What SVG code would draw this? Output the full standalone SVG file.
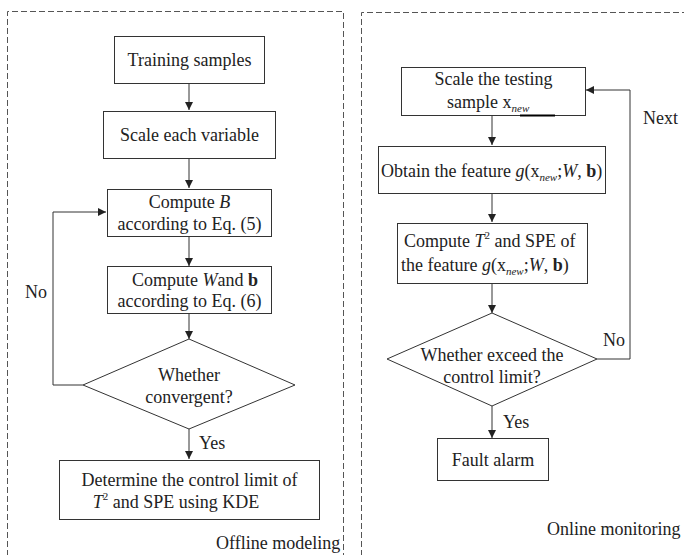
<svg xmlns="http://www.w3.org/2000/svg" width="684" height="555" viewBox="0 0 684 555">
<style>
.box{fill:#fff;stroke:#333;stroke-width:1}
.t{font-family:"Liberation Serif","Times New Roman",serif;font-size:18px;fill:#222}
.c{text-anchor:middle}
.i{font-style:italic}
.b{font-weight:bold}
.s{font-size:11px}
.ln{fill:none;stroke:#333;stroke-width:1}
.dash{fill:none;stroke:#555;stroke-width:1;stroke-dasharray:6 3}
</style>
<defs>
<marker id="ah" viewBox="0 0 10 10" refX="10" refY="5" markerWidth="8" markerHeight="8" markerUnits="userSpaceOnUse" orient="auto">
<path d="M0,0 L10,5 L0,10 Z" fill="#222"/>
</marker>
</defs>
<rect width="684" height="555" fill="#fff"/>
<g id="frames">
<path class="dash" d="M7.5,556 V11.5 H343.5 V556"/>
<path class="dash" d="M361.5,556 V12.5 H685"/>
</g>
<g id="connectors">
<line class="ln" x1="189" y1="83" x2="189" y2="110" marker-end="url(#ah)"/>
<line class="ln" x1="189" y1="158" x2="189" y2="188" marker-end="url(#ah)"/>
<line class="ln" x1="189" y1="236" x2="189" y2="266" marker-end="url(#ah)"/>
<line class="ln" x1="189" y1="313" x2="189" y2="339" marker-end="url(#ah)"/>
<line class="ln" x1="189" y1="429" x2="189" y2="459" marker-end="url(#ah)"/>
<polyline class="ln" points="83,385 53,385 53,212 106,212" marker-end="url(#ah)"/>
<line class="ln" x1="492" y1="115" x2="492" y2="145" marker-end="url(#ah)"/>
<line class="ln" x1="492" y1="193" x2="492" y2="222" marker-end="url(#ah)"/>
<line class="ln" x1="492" y1="283" x2="492" y2="313" marker-end="url(#ah)"/>
<line class="ln" x1="492" y1="406" x2="492" y2="438" marker-end="url(#ah)"/>
<polyline class="ln" points="597,359 630,359 630,90 586,90" marker-end="url(#ah)"/>
<text class="t" x="25" y="298">No</text>
<text class="t" x="199" y="449">Yes</text>
<text class="t" x="603" y="346">No</text>
<text class="t" x="643" y="124">Next</text>
<text class="t" x="503" y="428">Yes</text>
</g>
<g id="training">
<rect class="box" x="114.5" y="36.5" width="150" height="47"/>
<text class="t c" x="189.5" y="66">Training samples</text>
</g>
<g id="scale">
<rect class="box" x="103.5" y="111.5" width="172" height="47"/>
<text class="t c" x="189.5" y="141">Scale each variable</text>
</g>
<g id="computeB">
<rect class="box" x="107.5" y="189.5" width="164" height="47"/>
<text class="t c" x="189.5" y="208">Compute <tspan class="i">B</tspan></text>
<text class="t c" x="189.5" y="230">according to Eq. (5)</text>
</g>
<g id="computeW">
<rect class="box" x="107.5" y="266.5" width="164" height="47"/>
<text class="t c" x="195" y="286">Compute <tspan class="i">W</tspan>and <tspan class="b">b</tspan></text>
<text class="t c" x="189.5" y="307">according to Eq. (6)</text>
</g>
<g id="converge">
<polygon class="box" points="189,339 295,385 189,429 83,385"/>
<text class="t c" x="189" y="381">Whether</text>
<text class="t c" x="189" y="403">convergent?</text>
</g>
<g id="determine">
<rect class="box" x="59.5" y="460.5" width="260" height="59"/>
<text class="t c" x="189.5" y="486">Determine the control limit of</text>
<text class="t c" x="176" y="508"><tspan class="i">T</tspan><tspan class="s" dy="-8">2</tspan><tspan dy="8"> and SPE using KDE</tspan></text>
</g>
<text class="t" x="216" y="549">Offline modeling</text>
<g id="scaleTest">
<rect class="box" x="401.5" y="67.5" width="184" height="48"/>
<line x1="520" y1="115.5" x2="555" y2="115.5" stroke="#000" stroke-width="2"/>
<text class="t c" x="493.5" y="85">Scale the testing</text>
<text class="t" x="447" y="108">sample x<tspan class="s i" dy="4">new</tspan></text>
</g>
<g id="obtain">
<rect class="box" x="378.5" y="146.5" width="227" height="47"/>
<text class="t" x="381" y="177">Obtain the feature <tspan class="i">g</tspan>(x<tspan class="s i" dy="4">new</tspan><tspan dy="-4">;</tspan><tspan class="i">W</tspan>, <tspan class="b">b</tspan>)</text>
</g>
<g id="computeT">
<rect class="box" x="397.5" y="223.5" width="190" height="60"/>
<text class="t" x="404" y="247">Compute <tspan class="i">T</tspan><tspan class="s" dy="-8">2</tspan><tspan dy="8"> and SPE of</tspan></text>
<text class="t" x="401" y="271">the feature <tspan class="i">g</tspan>(x<tspan class="s i" dy="4">new</tspan><tspan dy="-4">;</tspan><tspan class="i">W</tspan>, <tspan class="b">b</tspan>)</text>
</g>
<g id="exceed">
<polygon class="box" points="492,313 597,359 492,406 387,359"/>
<text class="t c" x="492" y="361">Whether exceed the</text>
<text class="t c" x="492" y="383">control limit?</text>
</g>
<g id="fault">
<rect class="box" x="437.5" y="438.5" width="111" height="42"/>
<text class="t c" x="493" y="466">Fault alarm</text>
</g>
<text class="t" x="547" y="535">Online monitoring</text>
</svg>
